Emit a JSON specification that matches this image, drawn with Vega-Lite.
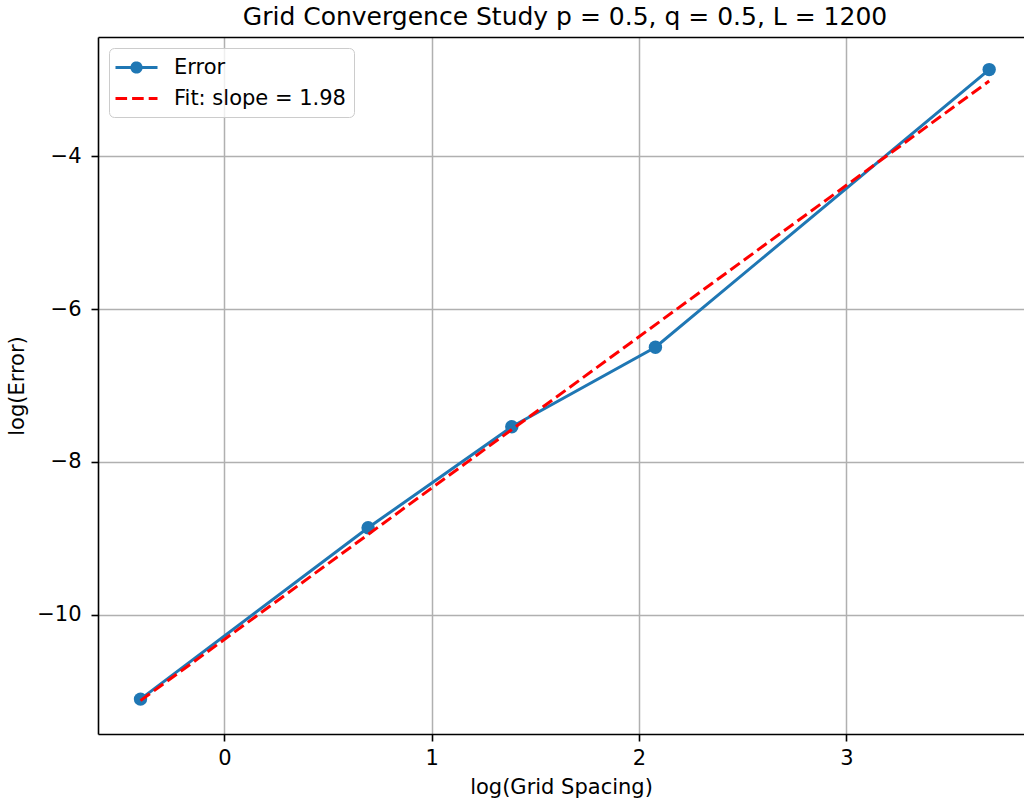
{
  "$schema": "https://vega.github.io/schema/vega-lite/v6.json",
  "width": 926,
  "height": 697,
  "autosize": {"type": "none"},
  "padding": {"left": 98, "top": 37, "right": 0, "bottom": 66},
  "background": "white",
  "title": {
    "text": "Grid Convergence Study p = 0.5, q = 0.5, L = 1200",
    "fontSize": 25,
    "font": "DejaVu Sans",
    "fontWeight": "normal",
    "color": "black",
    "anchor": "middle",
    "baseline": "alphabetic",
    "offset": 11,
    "dx": 4,
    "dy": 24
  },
  "resolve": {"axis": {"x": "independent", "y": "independent"}},
  "config": {
    "font": "DejaVu Sans",
    "view": {"stroke": null},
    "axis": {
      "labelFont": "DejaVu Sans",
      "labelFontSize": 21,
      "labelColor": "black",
      "titleFont": "DejaVu Sans",
      "titleFontSize": 21,
      "titleFontWeight": "normal",
      "titleColor": "black",
      "tickColor": "black",
      "tickWidth": 1.6,
      "tickSize": 7,
      "domainColor": "black",
      "domainWidth": 1.6,
      "gridColor": "#b0b0b0",
      "gridWidth": 1.5,
      "gridOpacity": 1
    },
    "legend": {
      "title": null,
      "orient": "top-left",
      "offset": 11,
      "padding": 8,
      "symbolSize": 400,
      "symbolStrokeWidth": 3,
      "symbolOffset": 8,
      "labelFont": "DejaVu Sans",
      "labelFontSize": 21,
      "labelColor": "black",
      "labelOffset": 26,
      "labelLimit": 500,
      "rowPadding": 8,
      "cornerRadius": 5,
      "strokeColor": "#cccccc",
      "fillColor": "rgba(255,255,255,0.8)"
    }
  },
  "data": {
    "values": [
      {"x": -0.405, "y": -11.10, "series": "Error"},
      {"x": 0.693, "y": -8.86, "series": "Error"},
      {"x": 1.386, "y": -7.54, "series": "Error"},
      {"x": 2.079, "y": -6.50, "series": "Error"},
      {"x": 3.689, "y": -2.87, "series": "Error"},
      {"x": -0.405, "y": -11.12, "series": "Fit: slope = 1.98"},
      {"x": 3.689, "y": -3.02, "series": "Fit: slope = 1.98"}
    ]
  },
  "layer": [
    {
      "transform": [{"filter": "datum.series === 'Error'"}],
      "mark": {"type": "line", "color": "#1f77b4", "strokeWidth": 3},
      "encoding": {
        "x": {"field": "x", "type": "quantitative",
              "scale": {"domain": [-0.61, 3.857], "nice": false, "zero": false},
              "axis": {"orient": "bottom", "values": [0, 1, 2, 3], "format": "d", "grid": true,
                       "labelPadding": 6, "title": "log(Grid Spacing)", "titlePadding": 8}},
        "y": {"field": "y", "type": "quantitative",
              "scale": {"domain": [-11.556, -2.444], "nice": false, "zero": false},
              "axis": {"orient": "left", "values": [-10, -8, -6, -4], "format": "d", "grid": true,
                       "labelPadding": 10, "title": "log(Error)", "titlePadding": 9}}
      }
    },
    {
      "transform": [{"filter": "datum.series === 'Error'"}],
      "mark": {"type": "point", "filled": true, "shape": "circle", "size": 180, "opacity": 1, "color": "#1f77b4"},
      "encoding": {
        "x": {"field": "x", "type": "quantitative",
              "scale": {"domain": [-0.61, 3.857], "nice": false, "zero": false}, "axis": null},
        "y": {"field": "y", "type": "quantitative",
              "scale": {"domain": [-11.556, -2.444], "nice": false, "zero": false}, "axis": null}
      }
    },
    {
      "transform": [{"filter": "datum.series !== 'Error'"}],
      "mark": {"type": "line", "color": "#ff0000", "strokeWidth": 3, "strokeDash": [11.6, 5]},
      "encoding": {
        "x": {"field": "x", "type": "quantitative",
              "scale": {"domain": [-0.61, 3.857], "nice": false, "zero": false},
              "axis": {"orient": "top", "labels": false, "ticks": false, "grid": false, "domain": true, "title": null}},
        "y": {"field": "y", "type": "quantitative",
              "scale": {"domain": [-11.556, -2.444], "nice": false, "zero": false}, "axis": null}
      }
    },
    {
      "transform": [{"filter": "false"}],
      "mark": {"type": "point", "size": 400, "strokeWidth": 3, "opacity": 1},
      "encoding": {
        "x": {"field": "x", "type": "quantitative",
              "scale": {"domain": [-0.61, 3.857], "nice": false, "zero": false}, "axis": null},
        "y": {"field": "y", "type": "quantitative",
              "scale": {"domain": [-11.556, -2.444], "nice": false, "zero": false}, "axis": null},
        "fill": {"field": "series", "type": "nominal",
                 "scale": {"domain": ["Error", "Fit: slope = 1.98"], "range": ["#1f77b4", "transparent"]}},
        "stroke": {"field": "series", "type": "nominal",
                   "scale": {"domain": ["Error", "Fit: slope = 1.98"], "range": ["#1f77b4", "#ff0000"]}},
        "shape": {"field": "series", "type": "nominal",
                  "scale": {"domain": ["Error", "Fit: slope = 1.98"],
                            "range": ["M-2.1,0H2.1M0.46,0A0.46,0.46 0 1,1 -0.46,0A0.46,0.46 0 1,1 0.46,0Z", "M-2.1,0H2.1"]}},
        "strokeDash": {"field": "series", "type": "nominal",
                       "scale": {"domain": ["Error", "Fit: slope = 1.98"], "range": [[1, 0], [11.6, 5]]}}
      }
    }
  ]
}
